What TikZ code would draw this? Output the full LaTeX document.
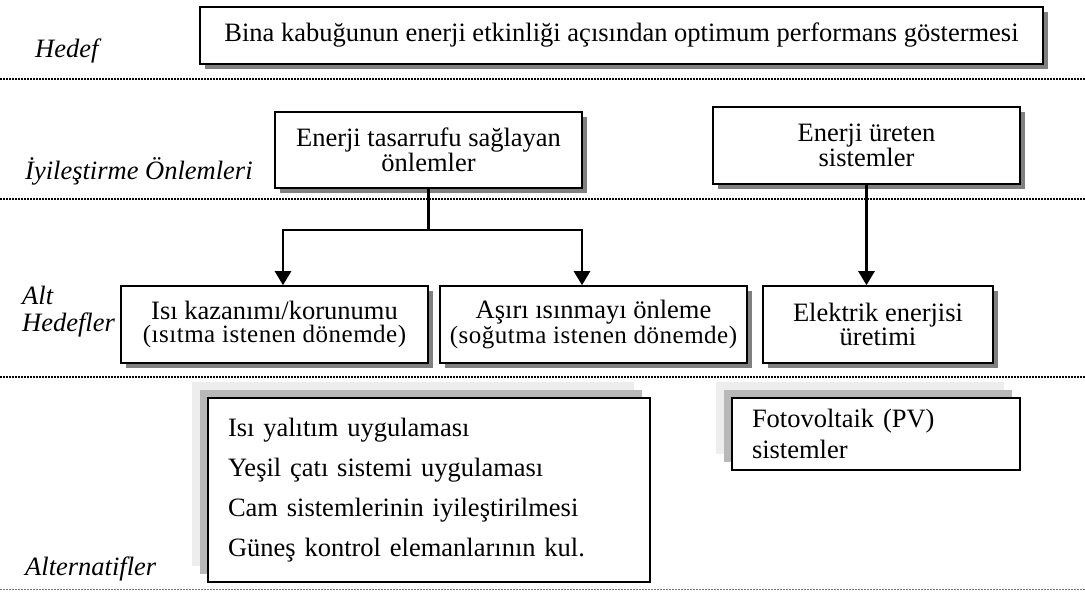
\documentclass[tikz,border=0pt]{standalone}
\usepackage{fontspec}
\setmainfont{Liberation Serif}
\newfontfamily\spacedserif[LetterSpace=2]{Liberation Serif}
\usetikzlibrary{arrows.meta,shadows}

\newcommand\whenline[1]{{\spacedserif\fontsize{25}{23}\selectfont #1}}

\begin{document}
\begin{tikzpicture}
  [x=1pt,y=-1pt,
   every node/.style={font=\fontsize{26.5}{23}\selectfont},
   goalbox/.style={draw,line width=1.6pt,fill=white,inner sep=0pt,align=center,
     drop shadow={shadow xshift=5pt,shadow yshift=-5pt,fill=black!50,opacity=1}},
   altbox/.style={draw,line width=1.6pt,fill=white,inner sep=0pt,align=left,
     drop shadow={shadow xshift=-16pt,shadow yshift=16pt,fill=black!7,opacity=1},
     drop shadow={shadow xshift=-8pt,shadow yshift=8pt,fill=black!28,opacity=1}},
   layer/.style={anchor=base west,inner sep=0pt,font=\itshape\fontsize{26.5}{30}\selectfont},
   levelline/.style={line width=2pt,dash pattern=on 1.5pt off 1.5pt},
   link/.style={line width=2.5pt,-{Triangle[width=16pt,length=14pt]}}]
  \useasboundingbox (0,0) rectangle (1085,592);

  % level separators
  \draw[levelline] (0,79) -- (1085,79);
  \draw[levelline] (0,199) -- (1085,199);
  \draw[levelline] (0,377) -- (1085,377);
  \draw[line width=1pt,black!55,dash pattern=on 2pt off 1pt] (0,589) -- (1085,589);

  % level names
  \node[layer] (hedef) at (35,57) {Hedef};
  \node[layer] (onlem) at (25,179) {İyileştirme Önlemleri};
  \node[layer] (alt) at (22,304) {Alt};
  \node[layer] (althedef) at (22,331) {Hedefler};
  \node[layer] (alternatif) at (25,575) {Alternatifler};

  % boxes
  \node[goalbox,minimum width=843pt,minimum height=57pt] (goal) at (621.5,35.5)
    {Bina kabuğunun enerji etkinliği açısından optimum performans göstermesi};
  \node[goalbox,minimum width=307pt,minimum height=76pt] (saving) at (428.5,150)
    {Enerji tasarrufu sağlayan\\önlemler};
  \node[goalbox,minimum width=307pt,minimum height=77pt] (producing) at (866.5,145.5)
    {Enerji üreten\\sistemler};
  \node[goalbox,minimum width=307pt,minimum height=77pt] (heating) at (274.5,324.5)
    {Isı kazanımı/korunumu\\\whenline{(ısıtma istenen dönemde)}};
  \node[goalbox,minimum width=307pt,minimum height=77pt] (cooling) at (593.5,324.5)
    {Aşırı ısınmayı önleme\\\whenline{(soğutma istenen dönemde)}};
  \node[goalbox,minimum width=230pt,minimum height=77pt,font=\fontsize{26.5}{24}\selectfont] (electric) at (878,324.5)
    {Elektrik enerjisi\\üretimi};
  \node[altbox,minimum width=442pt,minimum height=184pt,text width=402pt,font=\fontsize{26.5}{40}\selectfont] (measures) at (429,490)
    {Isı yalıtım uygulaması\\Yeşil çatı sistemi uygulaması\\Cam sistemlerinin iyileştirilmesi\\Güneş kontrol elemanlarının kul.};
  \node[altbox,minimum width=288pt,minimum height=72pt,text width=248pt,font=\fontsize{26.5}{31}\selectfont] (pv) at (876,434)
    {Fotovoltaik (PV)\\sistemler};

  % links
  \draw[line width=2.5pt] (saving.south) -- ++(0,41) coordinate (split);
  \draw[link] (split) -| ([xshift=8.5pt]heating.north);
  \draw[link] (split) -| ([xshift=-11.5pt]cooling.north);
  \draw[link] (producing.south) -- (producing.south |- electric.north);

\end{tikzpicture}
\end{document}
